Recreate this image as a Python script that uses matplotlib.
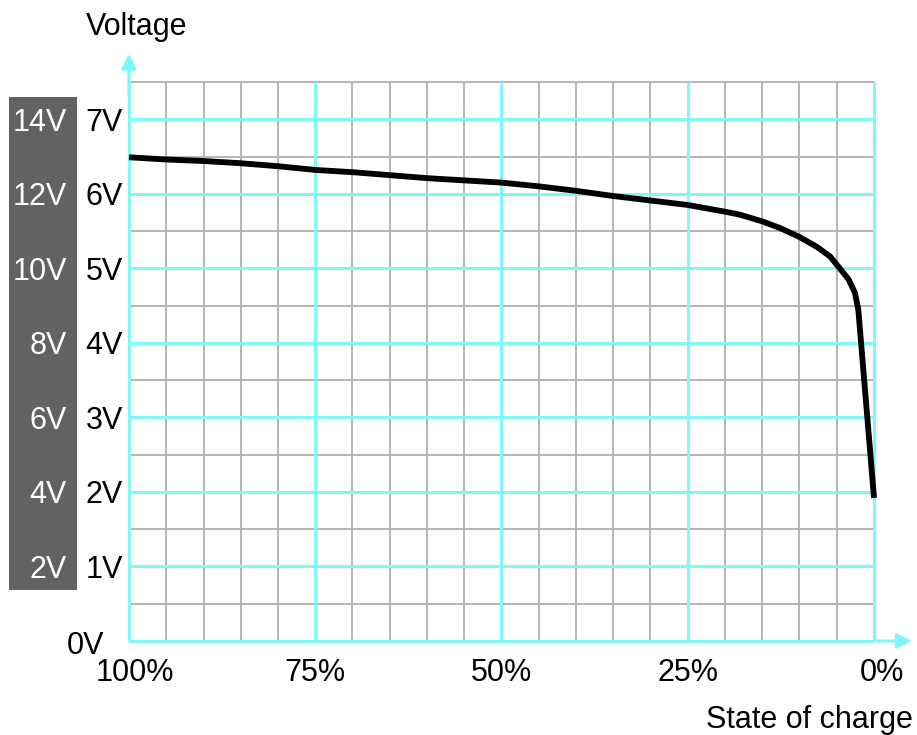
import matplotlib
matplotlib.use("Agg")
import matplotlib.pyplot as plt
import matplotlib.transforms as mtransforms
from matplotlib.patches import Rectangle
import numpy as np

plt.rcParams['font.family'] = ['Liberation Sans', 'DejaVu Sans']

# ---- data ----
soc = [100, 95, 90, 85, 80, 75, 70, 65, 60, 55, 50, 45, 40, 35, 30, 25, 20, 18, 15, 12.6, 10,
       7.7, 5.9, 4.6, 3.4, 2.55, 2.1, 0]
voltage = [6.49, 6.46, 6.44, 6.41, 6.37, 6.32, 6.29, 6.25, 6.21, 6.18, 6.15, 6.10, 6.04, 5.97, 5.91,
           5.85, 5.76, 5.72, 5.63, 5.54, 5.42, 5.29, 5.16, 5.00, 4.85, 4.67, 4.44, 1.92]

x_ticks = [100, 75, 50, 25, 0]
x_labels = ['100%', '75%', '50%', '25%', '0%']
y_ticks = [1, 2, 3, 4, 5, 6, 7]
y_labels = ['1V', '2V', '3V', '4V', '5V', '6V', '7V']
y2_labels = ['2V', '4V', '6V', '8V', '10V', '12V', '14V']
zero_label = '0V'
x_title = 'State of charge'
y_title = 'Voltage'

W, H = 917, 735
CYAN = '#80f8f8'
GRAY = '#b4b4b4'
FS = 22

fig = plt.figure(figsize=(W / 100, H / 100), dpi=100)
L, R, B, T = 129, 874, 641, 82
ax = fig.add_axes([L / W, 1 - B / H, (R - L) / W, (B - T) / H])
ax.patch.set_visible(False)
ax.set_xlim(100, 0)
ax.set_ylim(0, 7.5)
for s in ax.spines.values():
    s.set_visible(False)

minor_x = np.arange(0, 101, 5)
minor_y = np.arange(0.5, 7.51, 0.5)
ax.vlines(minor_x, 0, 7.5, color=GRAY, lw=1.4, zorder=1, clip_on=False)
ax.hlines(minor_y, 0, 100, color=GRAY, lw=1.4, zorder=1, clip_on=False)
ax.vlines(x_ticks, 0, 7.5, color=CYAN, lw=2.2, zorder=2, clip_on=False)
ax.hlines([0] + y_ticks, 0, 100, color=CYAN, lw=2.2, zorder=2, clip_on=False)

# axis arrows
ax.annotate('', xy=(-5.1, 0), xytext=(-0.4, 0),
            arrowprops=dict(arrowstyle='-|>', color=CYAN, lw=2.2, mutation_scale=22,
                            shrinkA=0, shrinkB=0),
            annotation_clip=False, zorder=2)
ax.annotate('', xy=(100, 7.88), xytext=(100, 7.3),
            arrowprops=dict(arrowstyle='-|>', color=CYAN, lw=2.2, mutation_scale=22,
                            shrinkA=0, shrinkB=0),
            annotation_clip=False, zorder=2)

ax.plot(soc, voltage, color='black', lw=4.2, zorder=3, solid_capstyle='butt',
        solid_joinstyle='round', clip_on=False)

ax.set_xticks(x_ticks)
ax.set_xticklabels(x_labels, fontsize=FS)
ax.set_yticks(y_ticks)
ax.set_yticklabels(y_labels, fontsize=FS)
ax.tick_params(axis='x', length=0, pad=12)
ax.tick_params(axis='y', length=0, pad=4.5)
# nudge end labels as in the reference
xl = ax.get_xticklabels()
xl[0].set_transform(xl[0].get_transform() + mtransforms.ScaledTranslation(6 / 100, 0, fig.dpi_scale_trans))
xl[-1].set_transform(xl[-1].get_transform() + mtransforms.ScaledTranslation(8 / 100, 0, fig.dpi_scale_trans))

ax.annotate(zero_label, xy=(100, 0), xytext=(-44, -2), textcoords='offset pixels',
            ha='center', va='center_baseline', fontsize=FS, annotation_clip=False)

# gray box with doubled scale
fig.patches.append(Rectangle((9 / W, 1 - 590 / H), 68 / W, 493 / H,
                             transform=fig.transFigure, facecolor='#626262',
                             edgecolor='none', zorder=-1))
blend = mtransforms.blended_transform_factory(fig.transFigure, ax.transData)
for yv, lab in zip(y_ticks, y2_labels):
    ax.text(67 / W, yv, lab, transform=blend, ha='right', va='center_baseline',
            color='white', fontsize=FS, clip_on=False, zorder=5)

fig.text(137 / W, 1 - 27 / H, y_title, ha='center', va='center', fontsize=FS)
fig.text(913 / W, 1 - 720 / H, x_title, ha='right', va='center', fontsize=FS)

fig.savefig('out.png', dpi=100, facecolor='white')
